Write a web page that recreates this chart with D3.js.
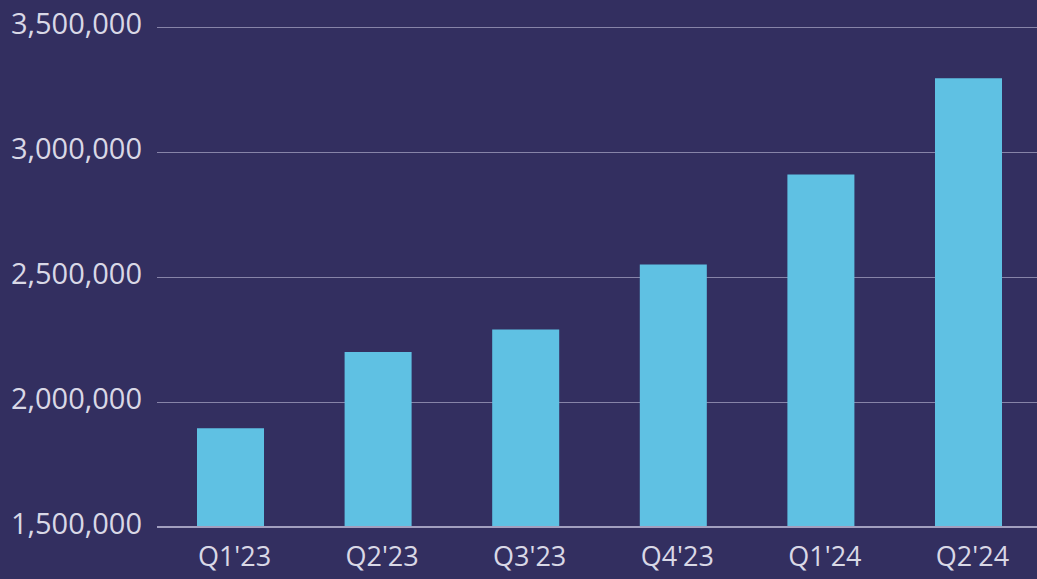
<!DOCTYPE html>
<html>
<head>
<meta charset="utf-8">
<script src="https://cdn.jsdelivr.net/npm/d3@7"></script>
<style>
  html, body { margin: 0; padding: 0; background: #332f60; }
  svg { display: block; }
  .tick text { font-family: "Open Sans", sans-serif; fill: #d9d8e6; }
</style>
</head>
<body>
<svg width="1037" height="579"></svg>
<script>
const svg = d3.select('svg');
const width = +svg.attr('width');
const height = +svg.attr('height');

// data
const quarters = ["Q1'23", "Q2'23", "Q3'23", "Q4'23", "Q1'24", "Q2'24"];
const users = [1895000, 2200000, 2290000, 2550000, 2910000, 3295000];
const yTicks = [1500000, 2000000, 2500000, 3000000, 3500000];

const margin = {top: 27, right: -5, bottom: 52, left: 157};

const xScale = d3.scaleBand()
    .domain(quarters)
    .range([margin.left, width - margin.right])
    .paddingInner(0.546)
    .paddingOuter(0.271);

const yScale = d3.scaleLinear()
    .domain([1500000, 3500000])
    .range([height - margin.bottom, margin.top]);

svg.append('rect')
    .attr('width', width)
    .attr('height', height)
    .attr('fill', '#332f60');

// gridlines + y labels
const yAxis = d3.axisLeft(yScale)
    .tickValues(yTicks)
    .tickFormat(d3.format(','))
    .tickSize(-(width - margin.left))
    .tickPadding(15);

const yAxisG = svg.append('g')
    .attr('transform', `translate(${margin.left},0)`)
    .call(yAxis);
yAxisG.select('.domain').remove();
yAxisG.selectAll('.tick line')
    .attr('stroke', '#8784a8')
    .attr('stroke-width', 1);
yAxisG.selectAll('.tick text')
    .attr('font-size', 29)
    .attr('dy', '0.22em');

// bars
svg.selectAll('rect.bar').data(quarters)
    .enter().append('rect')
        .attr('class', 'bar')
        .attr('x', d => xScale(d))
        .attr('y', (d, i) => yScale(users[i]))
        .attr('width', xScale.bandwidth())
        .attr('height', (d, i) => yScale(1500000) - yScale(users[i]))
        .attr('fill', '#5fc1e3');

// baseline
svg.append('line')
    .attr('x1', margin.left)
    .attr('x2', width)
    .attr('y1', yScale(1500000))
    .attr('y2', yScale(1500000))
    .attr('stroke', '#a29fbf')
    .attr('stroke-width', 2);

// x labels
const xAxis = d3.axisBottom(xScale)
    .tickSize(0)
    .tickPadding(20);

const xAxisG = svg.append('g')
    .attr('transform', `translate(0,${height - margin.bottom})`)
    .call(xAxis);
xAxisG.select('.domain').remove();
xAxisG.selectAll('.tick text')
    .attr('font-size', 27)
    .attr('dy', '0.72em')
    .attr('dx', 4);
</script>
</body>
</html>
